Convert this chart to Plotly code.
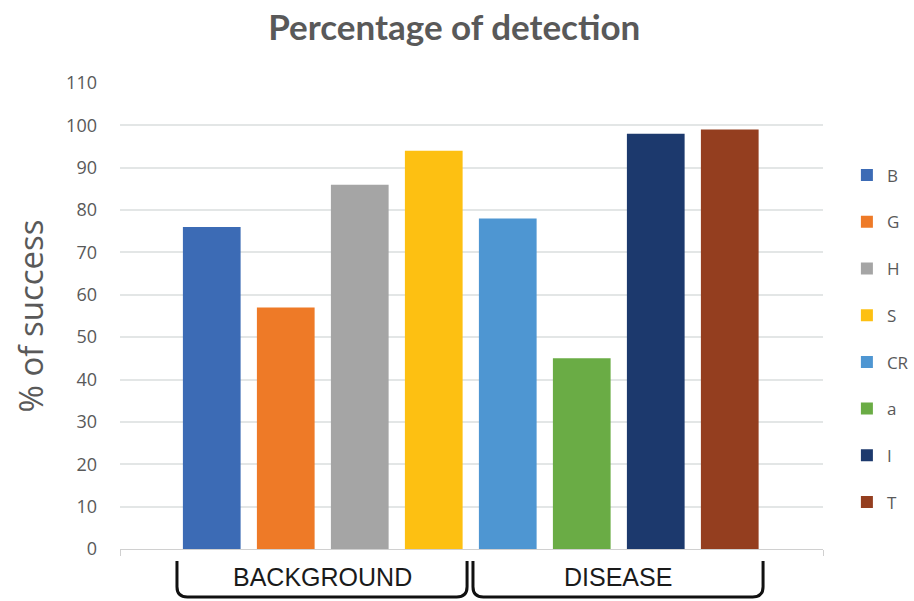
import plotly.graph_objects as go

# ---- data ----
series = ["B", "G", "H", "S", "CR", "a", "I", "T"]
values = [76, 57, 86, 94, 78, 45, 98, 99]
colors = ["#3c6bb5", "#ee7a27", "#a5a5a5", "#fdc012", "#4e96d2", "#6aac45", "#1c396d", "#943e1f"]
groups = ["BACKGROUND", "DISEASE"]
group_members = [["B", "G", "H", "S"], ["CR", "a", "I", "T"]]
y_ticks = list(range(0, 111, 10))

title = "Percentage of detection"
y_title = "% of success"

fig = go.Figure()
for i, (name, v, c) in enumerate(zip(series, values, colors)):
    fig.add_trace(go.Bar(
        x=[i], y=[v], name=name, width=0.78,
        marker=dict(color=c, line=dict(width=0)),
        legendgroup=name,
    ))

# group brackets below the axis
y_top = -0.026
y_bot = -0.103
r = 0.022
for g, members in zip(groups, group_members):
    i0 = series.index(members[0])
    i1 = series.index(members[-1])
    x0 = i0 - 0.47
    x1 = i1 + 0.45
    dx = 0.14
    path = (f"M {x0},{y_top} L {x0},{y_bot + r} Q {x0},{y_bot} {x0 + dx},{y_bot} "
            f"L {x1 - dx},{y_bot} Q {x1},{y_bot} {x1},{y_bot + r} L {x1},{y_top}")
    fig.add_shape(type="path", path=path, xref="x", yref="paper",
                  line=dict(color="#111111", width=3))
    fig.add_annotation(x=(x0 + x1) / 2, y=-0.06, xref="x", yref="paper",
                       text=g, showarrow=False, yanchor="middle",
                       font=dict(family="Liberation Sans, Arial", size=25, color="#1a1a1a"))

fig.update_layout(
    width=914, height=601,
    margin=dict(l=120, r=91, t=83, b=52, autoexpand=False),
    plot_bgcolor="white", paper_bgcolor="white",
    barmode="overlay",
    title=dict(text=title, x=0.497, xanchor="center", y=0.953, yanchor="middle",
               font=dict(family="Lato, Open Sans, sans-serif", size=35, color="#595959", weight="bold")),
    showlegend=True,
    legend=dict(x=1.034, xanchor="left", y=0.84, yanchor="top",
                font=dict(family="Open Sans, sans-serif", size=17, color="#595959"),
                tracegroupgap=21.6, traceorder="grouped", itemwidth=30),
    xaxis=dict(range=[-1.24, 8.26], showgrid=False, zeroline=False,
               showline=True, linecolor="#d0d0d0", linewidth=1,
               tickvals=[-1.24, 8.26], ticks="outside", ticklen=6, tickcolor="#d0d0d0",
               showticklabels=False, fixedrange=True),
    yaxis=dict(range=[0, 110], tickvals=y_ticks, showgrid=True, gridcolor="#e3e6e6", gridwidth=1.5,
               zeroline=False, showline=False, ticks="",
               tickfont=dict(family="Open Sans, sans-serif", size=18, color="#595959"),
               ticklabelstandoff=22,
               title=dict(text=y_title, standoff=12,
                          font=dict(family="Open Sans, sans-serif", size=33, color="#595959"))),
)

fig.write_html("out.html", post_script="document.body.style.margin='0';",
               config={"displayModeBar": False})
